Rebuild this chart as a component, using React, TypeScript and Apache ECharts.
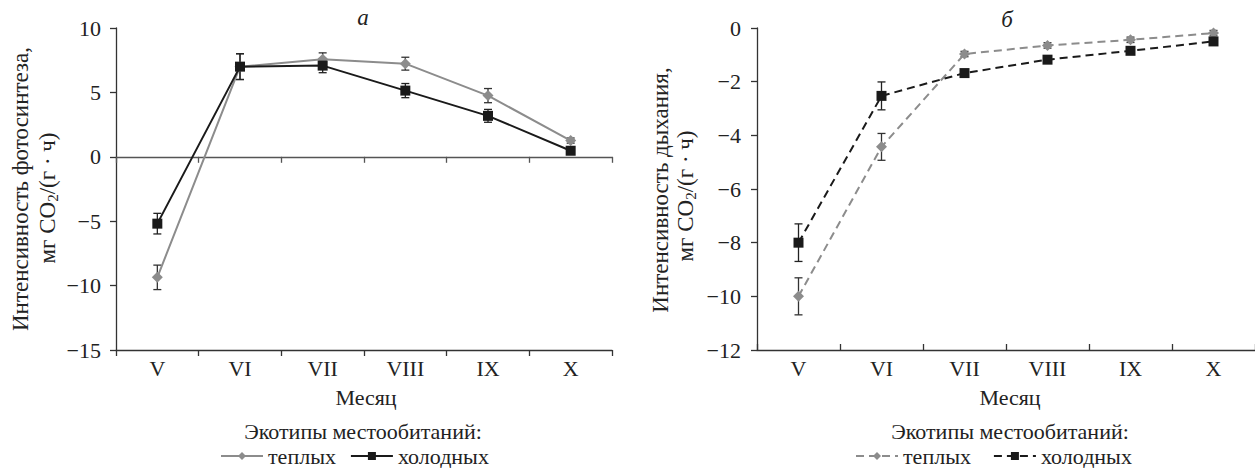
import React, { useEffect, useRef } from "react";
import * as echarts from "echarts";

const months = ["V", "VI", "VII", "VIII", "IX", "X"];

// Panel а: photosynthesis
const photoWarm = [-9.36, 7.0, 7.57, 7.23, 4.75, 1.26];
const photoWarmErr = [0.95, 1.0, 0.5, 0.5, 0.55, 0.2];
const photoCold = [-5.19, 7.0, 7.08, 5.14, 3.18, 0.47];
const photoColdErr = [0.8, 1.0, 0.55, 0.55, 0.5, 0.2];

// Panel б: respiration
const respWarm = [-10.0, -4.43, -0.97, -0.65, -0.44, -0.19];
const respWarmErr = [0.69, 0.5, 0.1, 0.1, 0.1, 0.1];
const respCold = [-8.0, -2.53, -1.68, -1.18, -0.85, -0.5];
const respColdErr = [0.7, 0.52, 0.1, 0.1, 0.1, 0.1];

const FONT = "Liberation Serif";
const GRAY = "#8c8c8c";
const BLACK = "#1a1a1a";
const AXIS = "#333";
const TXT = "#222";

const minusFmt = (v: number) => String(v).replace("-", "\u2212");

function errData(vals: number[], errs: number[]) {
  return vals.map((v, i) => [i, v, errs[i]]);
}

function errSeries(xi: number, yi: number, data: number[][], color: string) {
  return {
    type: "custom",
    xAxisIndex: xi,
    yAxisIndex: yi,
    z: 1,
    silent: true,
    data,
    renderItem: (params: any, api: any) => {
      const x = api.value(0);
      const y = api.value(1);
      const e = api.value(2);
      const top = api.coord([x, y + e]);
      const bot = api.coord([x, y - e]);
      const w = 4;
      const st = { stroke: color, lineWidth: 1.3 };
      return {
        type: "group",
        children: [
          { type: "line", shape: { x1: top[0], y1: top[1], x2: bot[0], y2: bot[1] }, style: st },
          { type: "line", shape: { x1: top[0] - w, y1: top[1], x2: top[0] + w, y2: top[1] }, style: st },
          { type: "line", shape: { x1: bot[0] - w, y1: bot[1], x2: bot[0] + w, y2: bot[1] }, style: st },
        ],
      };
    },
  };
}

function txt(x: number, y: number, text: string, size: number, extra: any = {}) {
  return {
    type: "text",
    x,
    y,
    ...(extra.rotation ? { rotation: extra.rotation } : {}),
    style: {
      text,
      fontFamily: FONT,
      fontSize: size,
      fontStyle: extra.italic ? "italic" : "normal",
      fill: TXT,
      align: "center",
      verticalAlign: "middle",
      ...(extra.rich ? { rich: extra.rich } : {}),
    },
  };
}

export default function App() {
  const ref = useRef<HTMLDivElement>(null);

  useEffect(() => {
    if (!ref.current) return;
    const chart = echarts.init(ref.current, undefined, { renderer: "svg" });

    const tickStyle = { color: TXT, fontFamily: FONT, fontSize: 22 };
    const catStyle = { color: TXT, fontFamily: FONT, fontSize: 22 };
    const subRich = { sub: { fontSize: 15, fontFamily: FONT, color: TXT, padding: [12, 0, 0, 0] } };

    const legendBase = {
      top: 445,
      padding: 0,
      itemWidth: 42,
      itemHeight: 10,
      textStyle: { fontFamily: FONT, fontSize: 22, color: TXT, lineHeight: 20 },
      formatter: (n: string) => n.trim(),
    };

    const option: any = {
      animation: false,
      backgroundColor: "#fff",
      textStyle: { fontFamily: FONT },
      grid: [
        { left: 116, top: 28, width: 496, height: 322 },
        { left: 757, top: 28, width: 500, height: 322 },
      ],
      xAxis: [
        {
          type: "category",
          gridIndex: 0,
          data: months,
          position: "bottom",
          axisLine: { onZero: false, lineStyle: { color: AXIS, width: 1.3 } },
          axisTick: { show: true, inside: false, length: 6, lineStyle: { color: AXIS, width: 1.3 } },
          axisLabel: { ...catStyle, margin: 7 },
          splitLine: { show: false },
        },
        {
          type: "category",
          gridIndex: 0,
          data: months,
          position: "top",
          axisLine: { onZero: true, lineStyle: { color: "#555", width: 1.3 } },
          axisTick: { show: true, inside: true, length: 6, lineStyle: { color: "#555", width: 1.3 } },
          axisLabel: { show: false },
          splitLine: { show: false },
        },
        {
          type: "category",
          gridIndex: 1,
          data: months,
          position: "bottom",
          axisLine: { onZero: false, lineStyle: { color: AXIS, width: 1.3 } },
          axisTick: { show: true, inside: true, length: 6, lineStyle: { color: AXIS, width: 1.3 } },
          axisLabel: { ...catStyle, margin: 7 },
          splitLine: { show: false },
        },
      ],
      yAxis: [
        {
          type: "value",
          gridIndex: 0,
          min: -15,
          max: 10,
          interval: 5,
          axisLine: { show: true, onZero: false, lineStyle: { color: AXIS, width: 1.3 } },
          axisTick: { show: true, length: 6, lineStyle: { color: AXIS, width: 1.3 } },
          axisLabel: { ...tickStyle, margin: 15, formatter: minusFmt },
          splitLine: { show: false },
        },
        {
          type: "value",
          gridIndex: 1,
          min: -12,
          max: 0,
          interval: 2,
          axisLine: { show: true, onZero: false, lineStyle: { color: AXIS, width: 1.3 } },
          axisTick: { show: true, length: 6, lineStyle: { color: AXIS, width: 1.3 } },
          axisLabel: { ...tickStyle, margin: 16, formatter: minusFmt },
          splitLine: { show: false },
        },
      ],
      legend: [
        { ...legendBase, data: ["теплых", "холодных"], left: 220, itemGap: 14 },
        { ...legendBase, data: ["теплых ", "холодных "], left: 855, itemGap: 22 },
      ],
      series: [
        errSeries(0, 0, errData(photoWarm, photoWarmErr), "#333"),
        errSeries(0, 0, errData(photoCold, photoColdErr), "#222"),
        {
          name: "теплых",
          type: "line",
          xAxisIndex: 0,
          yAxisIndex: 0,
          data: photoWarm,
          z: 2,
          symbol: "diamond",
          symbolSize: 11,
          itemStyle: { color: GRAY },
          lineStyle: { color: GRAY, width: 2 },
        },
        {
          name: "холодных",
          type: "line",
          xAxisIndex: 0,
          yAxisIndex: 0,
          data: photoCold,
          z: 3,
          symbol: "rect",
          symbolSize: 10,
          itemStyle: { color: BLACK },
          lineStyle: { color: BLACK, width: 2 },
        },
        errSeries(2, 1, errData(respWarm, respWarmErr), "#333"),
        errSeries(2, 1, errData(respCold, respColdErr), "#222"),
        {
          name: "теплых ",
          type: "line",
          xAxisIndex: 2,
          yAxisIndex: 1,
          data: respWarm,
          z: 2,
          symbol: "diamond",
          symbolSize: 11,
          itemStyle: { color: GRAY },
          lineStyle: { color: GRAY, width: 2, type: [8, 5] },
        },
        {
          name: "холодных ",
          type: "line",
          xAxisIndex: 2,
          yAxisIndex: 1,
          data: respCold,
          z: 3,
          symbol: "rect",
          symbolSize: 10,
          itemStyle: { color: BLACK },
          lineStyle: { color: BLACK, width: 2, type: [8, 5] },
        },
      ],
      graphic: [
        txt(363, 17, "а", 23, { italic: true }),
        txt(1007, 19, "б", 23, { italic: true }),
        txt(20, 189, "Интенсивность фотосинтеза,", 23, { rotation: Math.PI / 2 }),
        txt(47, 198, "мг CO{sub|2}/(г · ч)", 23, { rotation: Math.PI / 2, rich: subRich }),
        txt(660, 190, "Интенсивность дыхания,", 23, { rotation: Math.PI / 2 }),
        txt(685, 196, "мг CO{sub|2}/(г · ч)", 23, { rotation: Math.PI / 2, rich: subRich }),
        txt(366, 397, "Месяц", 22),
        txt(1010, 397, "Месяц", 22),
        txt(363, 431, "Экотипы местообитаний:", 22),
        txt(1010, 431, "Экотипы местообитаний:", 22),
      ],
    };

    chart.setOption(option);
    return () => chart.dispose();
  }, []);

  return (
    <div
      ref={ref}
      style={{ position: "absolute", left: 0, top: 0, width: 1255, height: 468, background: "#fff" }}
    />
  );
}
